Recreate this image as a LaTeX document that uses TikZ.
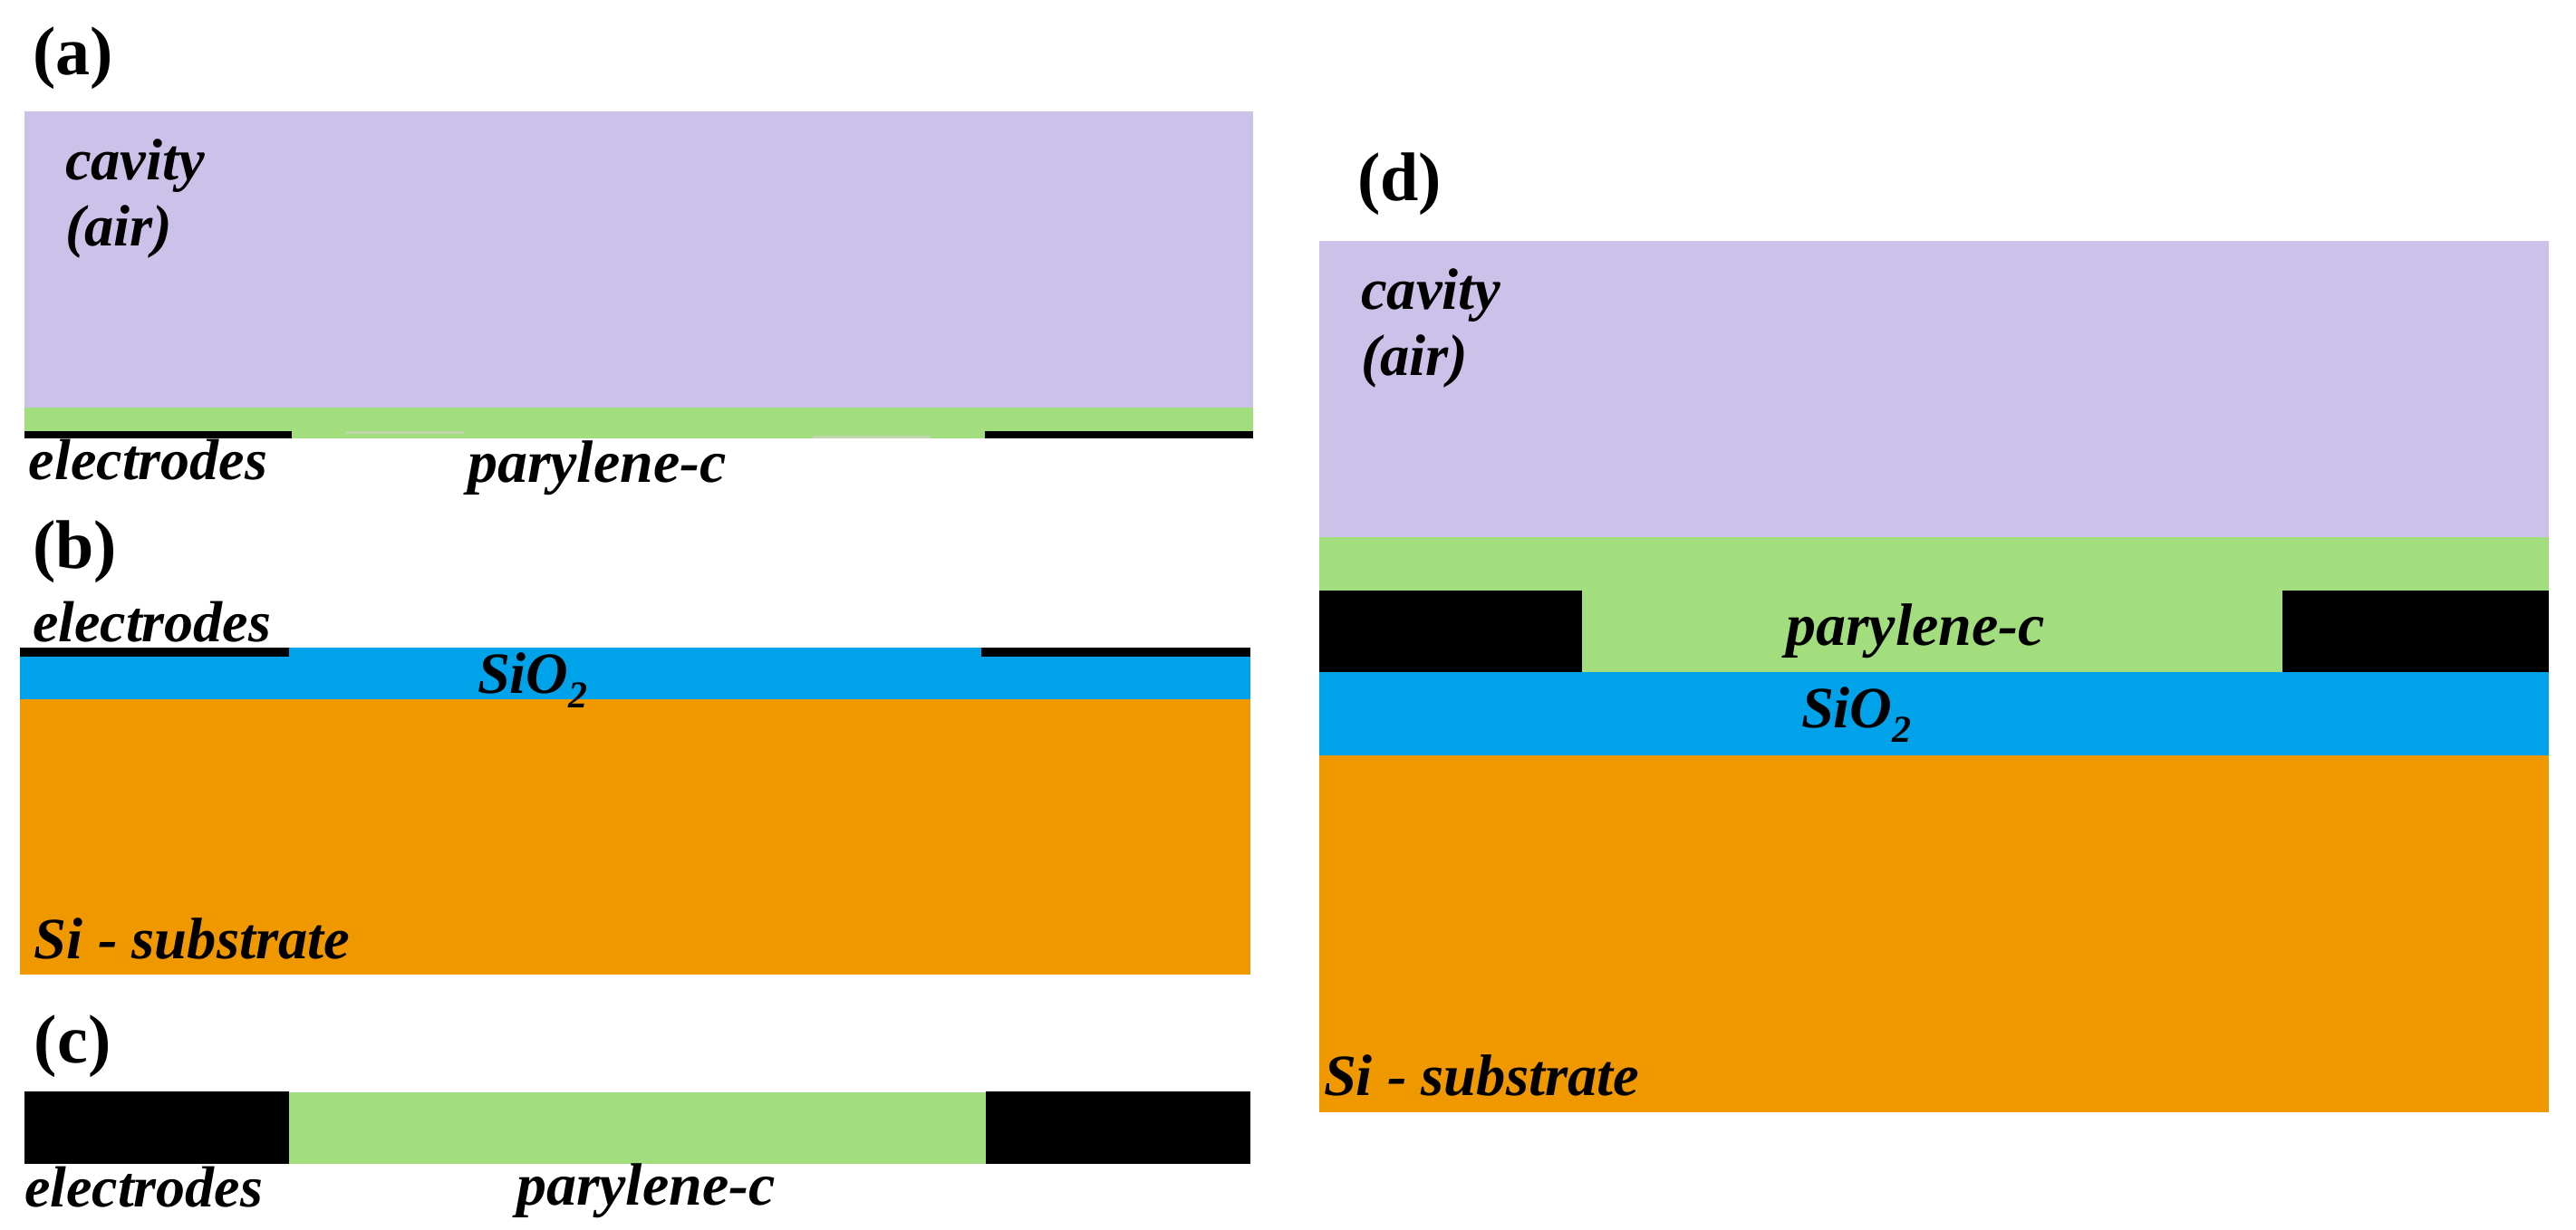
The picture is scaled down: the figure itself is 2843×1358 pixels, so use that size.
\documentclass[tikz,border=0pt]{standalone}
\usepackage{fontspec}
\setmainfont{Liberation Serif}
\definecolor{lilac}{HTML}{CCC1E9}
\definecolor{pary}{HTML}{A2DD7E}
\definecolor{oxide}{HTML}{00A2EA}
\definecolor{silicon}{HTML}{F09800}
\definecolor{streak}{HTML}{BFD6B0}
\newcommand{\lowtwo}{\raisebox{-0.26em}{\fontsize{21}{21}\selectfont 2}}
\tikzset{
  x=0.5pt,y=-0.5pt,
  lbl/.style={anchor=base west,inner sep=0pt,outer sep=0pt,font=\fontsize{32.3}{36}\selectfont\bfseries\itshape},
  elec/.style={lbl,font=\fontsize{32}{36}\selectfont\bfseries\itshape},
  parlbl/.style={lbl,font=\fontsize{33}{36}\selectfont\bfseries\itshape},
  panel/.style={anchor=base west,inner sep=0pt,outer sep=0pt,font=\fontsize{38}{44}\selectfont\bfseries},
}
\begin{document}
\begin{tikzpicture}
\useasboundingbox (0,0) rectangle (2843,1358);
% (a)
\fill[lilac] (27,123) rectangle (1383,450);
\fill[pary] (27,450) rectangle (1383,484);
\fill[streak] (382,476) rectangle (512,479);
\fill[streak] (897,481) rectangle (1027,484);
\fill[black] (27,476) rectangle (322,484);
\fill[black] (1087,476) rectangle (1383,484);
% (b)
\fill[oxide] (22,715) rectangle (1380,772);
\fill[silicon] (22,772) rectangle (1380,1076);
\fill[black] (22,715) rectangle (319,725);
\fill[black] (1083,715) rectangle (1380,725);
% (c)
\fill[pary] (319,1206) rectangle (1088,1285);
\fill[black] (27,1205) rectangle (319,1285);
\fill[black] (1088,1205) rectangle (1380,1285);
% (d)
\fill[lilac] (1456,266) rectangle (2813,593);
\fill[pary] (1456,593) rectangle (2813,742);
\fill[black] (1456,652) rectangle (1746,742);
\fill[black] (2519,652) rectangle (2813,742);
\fill[oxide] (1456,742) rectangle (2813,834);
\fill[silicon] (1456,834) rectangle (2813,1228);
% labels
\node[panel] (pa) at (36,83) {(a)};
\node[panel] (pb) at (36,627) {(b)};
\node[panel] (pc) at (38,1173) {(c)};
\node[panel] (pd) at (1498,222) {(d)};
\node[lbl] (cava) at (72,199) {cavity};
\node[lbl] (aira) at (72,272) {(air)};
\node[elec] (ela) at (32,529) {electrodes};
\node[parlbl] (para) at (516,532) {parylene-c};
\node[elec] (elb) at (36,708) {electrodes};
\node[lbl] (sib) at (527,765) {SiO\lowtwo};
\node[lbl] (subb) at (38,1058) {Si - substrate};
\node[elec] (elc) at (27,1332) {electrodes};
\node[parlbl] (parc) at (570,1330) {parylene-c};
\node[lbl] (cavd) at (1502,342) {cavity};
\node[lbl] (aird) at (1502,415) {(air)};
\node[parlbl] (pard) at (1971,712) {parylene-c};
\node[lbl] (sid) at (1988,803) {SiO\lowtwo};
\node[lbl] (subd) at (1461,1209) {Si - substrate};
\end{tikzpicture}
\end{document}
